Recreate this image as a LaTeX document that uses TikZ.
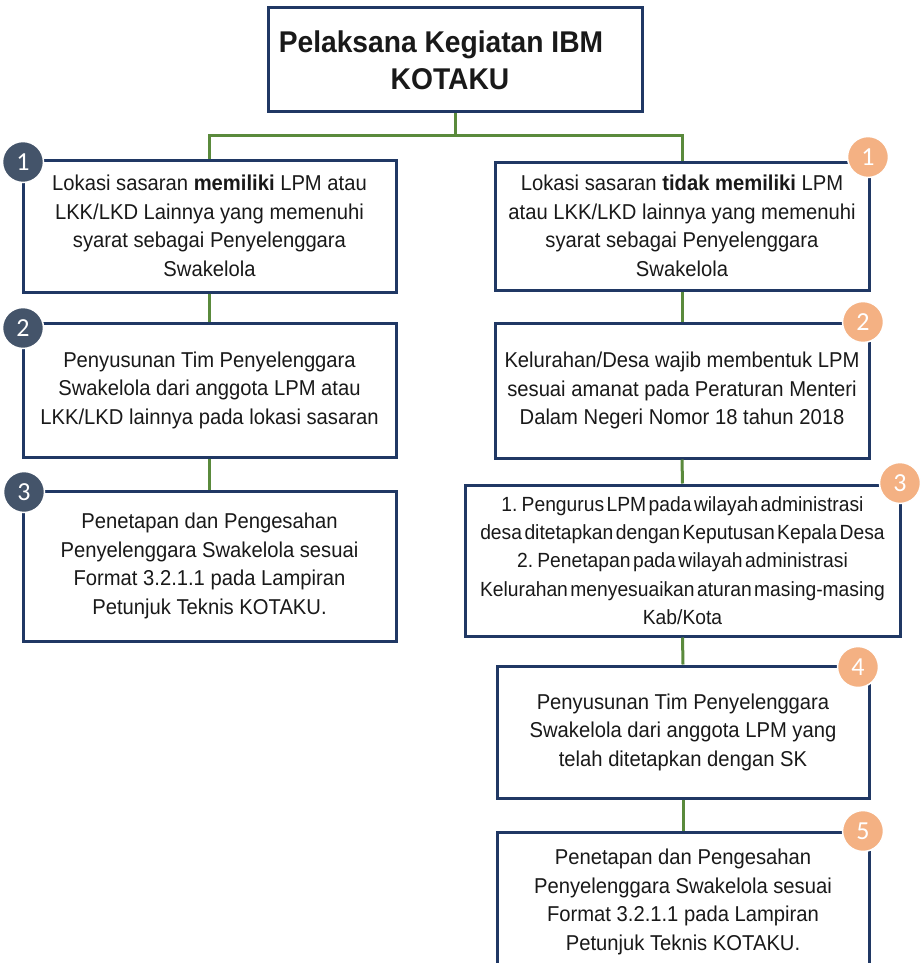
\documentclass[tikz,border=0pt]{standalone}
\usepackage{fontspec}
\setmainfont{Liberation Sans}[FakeStretch=0.94]
\newfontfamily\badgefont{Carlito}
\newcommand\tightspaces{\spaceskip 0.12em plus 0.05em\relax}
\definecolor{navy}{HTML}{203864}
\definecolor{slate}{HTML}{44546A}
\definecolor{peach}{HTML}{F4B183}
\definecolor{leaf}{HTML}{5A8A3C}
\begin{document}
\begin{tikzpicture}[x=1pt,y=-1pt,
  box/.style={draw=navy, line width=3pt, fill=white, rectangle, inner sep=0pt, align=center,
    font=\fontsize{21.5}{28.5}\selectfont, text=black!90},
  titlebox/.style={box, font=\fontsize{30}{37}\selectfont\bfseries},
  link/.style={draw=leaf, line width=3pt},
  badge/.style={circle, minimum size=41pt, inner sep=0pt, draw=white, line width=1.5pt,
    text=white, font=\badgefont\fontsize{26}{26}\selectfont},
  darkbadge/.style={badge, fill=slate},
  lightbadge/.style={badge, fill=peach}]
\clip (0,0) rectangle (922,963);
\fill[white] (0,0) rectangle (922,963);
% boxes
\node[titlebox, minimum width=374pt, minimum height=104pt] (top) at (455,60)
  {Pelaksana Kegiatan IBM\hspace*{28pt}\\KOTAKU\hspace*{10pt}};
\node[box, minimum width=373pt, minimum height=132pt] (l1) at (209.5,226)
  {Lokasi sasaran \textbf{memiliki} LPM atau\\LKK/LKD Lainnya yang memenuhi\\syarat sebagai Penyelenggara\\Swakelola};
\node[box, minimum width=373pt, minimum height=134pt] (l2) at (209.5,390)
  {Penyusunan Tim Penyelenggara\\Swakelola dari anggota LPM atau\\LKK/LKD lainnya pada lokasi sasaran};
\node[box, minimum width=373pt, minimum height=150pt] (l3) at (209.5,566)
  {Penetapan dan Pengesahan\\Penyelenggara Swakelola sesuai\\Format 3.2.1.1 pada Lampiran\\Petunjuk Teknis KOTAKU.};
\node[box, minimum width=374pt, minimum height=128pt] (r1) at (682,226)
  {Lokasi sasaran \textbf{tidak memiliki} LPM\\atau LKK/LKD lainnya yang memenuhi\\syarat sebagai Penyelenggara\\Swakelola};
\node[box, minimum width=374pt, minimum height=135pt] (r2) at (682,390.5)
  {Kelurahan/Desa wajib membentuk LPM\\sesuai amanat pada Peraturan Menteri\\Dalam Negeri Nomor 18 tahun 2018};
\node[box, minimum width=435pt, minimum height=151pt, font=\fontsize{20.5}{28.2}\selectfont\tightspaces] (r3) at (682.5,560.5)
  {1. Pengurus LPM pada wilayah administrasi\\desa ditetapkan dengan Keputusan Kepala Desa\\2. Penetapan pada wilayah administrasi\\Kelurahan menyesuaikan aturan masing-masing\\Kab/Kota};
\node[box, minimum width=372pt, minimum height=132pt] (r4) at (683,732)
  {Penyusunan Tim Penyelenggara\\Swakelola dari anggota LPM yang\\telah ditetapkan dengan SK};
\node[box, minimum width=372pt, minimum height=140pt] (r5) at (683,902)
  {Penetapan dan Pengesahan\\Penyelenggara Swakelola sesuai\\Format 3.2.1.1 pada Lampiran\\Petunjuk Teknis KOTAKU.};
% connectors
\coordinate (split) at (455,135);
\path[link] (top.south) -- (split);
\path[link] (l1.north) |- (split) -| (r1.north);
\path[link] (l1.south) -- (l2.north);
\path[link] (l2.south) -- (l3.north);
\path[link] (r1.south) -- (r2.north);
\path[link] (r2.south) -- (r3.north);
\path[link] (r3.south) -- (r4.north);
\path[link] (r4.south) -- (r5.north);
% badges
\node[darkbadge] (b1) at (23,162) {1};
\node[darkbadge] (b2) at (23,328) {2};
\node[darkbadge] (b3) at (24,492) {3};
\node[lightbadge] (c1) at (868,157) {1};
\node[lightbadge] (c2) at (863,322) {2};
\node[lightbadge] (c3) at (900,483) {3};
\node[lightbadge] (c4) at (858,667) {4};
\node[lightbadge] (c5) at (863,831) {5};
\end{tikzpicture}
\end{document}
